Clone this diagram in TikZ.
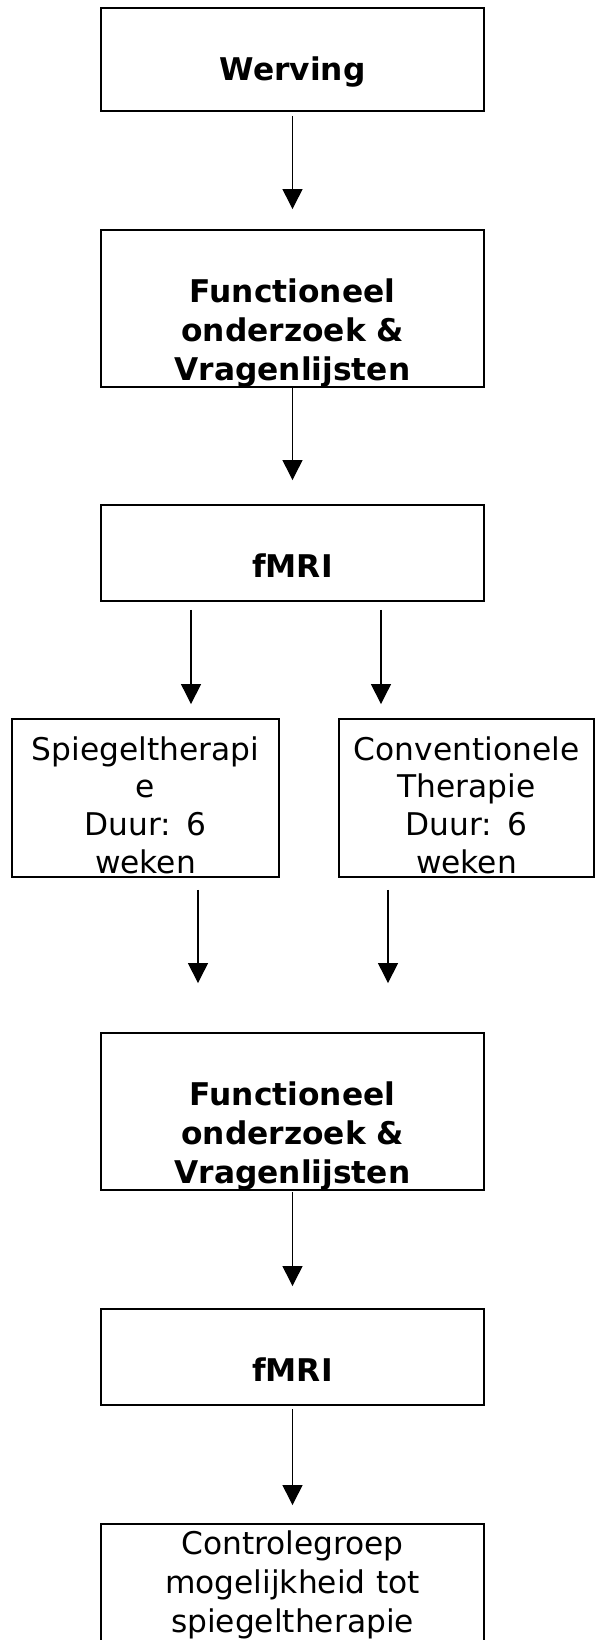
\documentclass[tikz,border=0pt]{standalone}
\usepackage{fontspec}
\setmainfont{DejaVu Sans}
\usetikzlibrary{arrows.meta}

\begin{document}
\begin{tikzpicture}[x=0.02cm,y=-0.02cm,>={Triangle[length=0.4cm,width=0.4cm]}]
        \tikzstyle{stap}=[rectangle,draw=black,line width=1.1pt,inner sep=0pt,align=center,text width=7.66cm,font=\fontsize{17.8pt}{22.2pt}\selectfont\bfseries]
        \tikzstyle{groep}=[stap,font=\fontsize{17.8pt}{21.5pt}\selectfont]
        \tikzstyle{edge}=[draw=black,line width=0.7pt,->]

        \useasboundingbox (0,0) rectangle (595,1640);

         \node [stap,text height=1.44cm,text depth=0.62cm] (werving) at (292.5,59.5) {Werving};
         \node [stap,text height=1.44cm,text depth=1.70cm] (onderzoek1) at (292.5,308.5) {Functioneel\\onderzoek \&\\Vragenlijsten};
         \node [stap,text height=1.44cm,text depth=0.48cm] (fmri1) at (292.5,553) {fMRI};
         \node [groep,text width=5.34cm,text height=0.82cm,text depth=2.34cm] (spiegel) at (145.5,798) {Spiegeltherapi\\e\\Duur: 6\\weken};
         \node [groep,text width=5.10cm,text height=0.82cm,text depth=2.34cm] (conv) at (466.5,798) {Conventionele\\Therapie\\Duur: 6\\weken};
         \node [stap,text height=1.44cm,text depth=1.70cm] (onderzoek2) at (292.5,1111.5) {Functioneel\\onderzoek \&\\Vragenlijsten};
         \node [stap,text height=1.44cm,text depth=0.48cm] (fmri2) at (292.5,1357) {fMRI};
         \node [groep,font=\fontsize{17.8pt}{22.2pt}\selectfont,text height=0.6cm,text depth=2.12cm] (controle) at (292.5,1592) {Controlegroep\\mogelijkheid tot\\spiegeltherapie};

 		\draw[edge, shorten <=0.08cm, shorten >=0.4cm] (werving.south) -- (onderzoek1.north);
 		\draw[edge, shorten >=0.48cm] (onderzoek1.south) -- (fmri1.north);
 		\draw[edge, shorten <=0.16cm, shorten >=0.28cm] ([xshift=-2.03cm]fmri1.south) -- ([xshift=-2.03cm]fmri1.south |- spiegel.north);
 		\draw[edge, shorten <=0.16cm, shorten >=0.28cm] ([xshift=1.77cm]fmri1.south) -- ([xshift=1.77cm]fmri1.south |- conv.north);
 		\draw[edge, shorten <=0.24cm, shorten >=0.98cm] ([xshift=1.05cm]spiegel.south) -- ([xshift=1.05cm]spiegel.south |- onderzoek2.north);
 		\draw[edge, shorten <=0.24cm, shorten >=0.98cm] ([xshift=-1.57cm]conv.south) -- ([xshift=-1.57cm]conv.south |- onderzoek2.north);
 		\draw[edge, shorten <=0.02cm, shorten >=0.44cm] (onderzoek2.south) -- (fmri2.north);
 		\draw[edge, shorten <=0.06cm, shorten >=0.36cm] (fmri2.south) -- (controle.north);

\end{tikzpicture}
\end{document}
